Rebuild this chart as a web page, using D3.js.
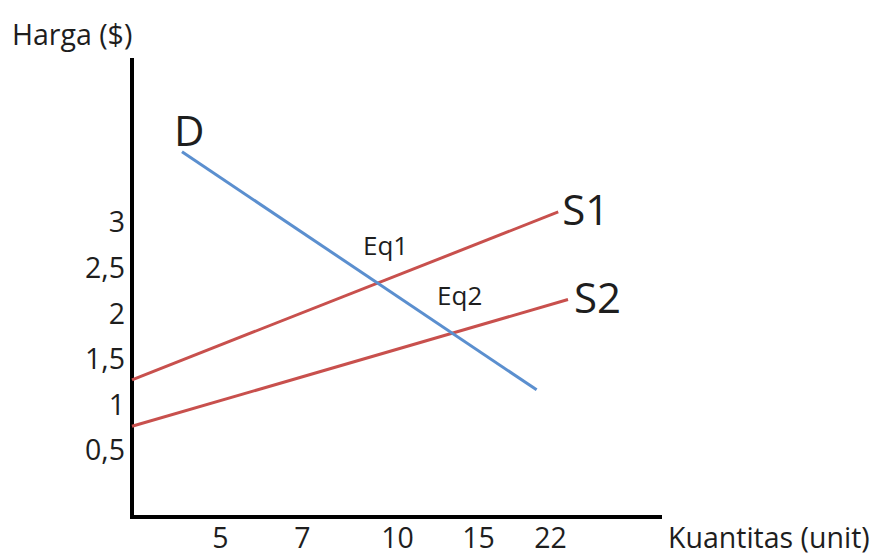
<!DOCTYPE html>
<html><head><meta charset="utf-8">
<script src="https://cdn.jsdelivr.net/npm/d3@7"></script>
<style>
html,body{margin:0;padding:0;background:#fff;}
svg{display:block;}
text{font-family:"Open Sans",Lato,sans-serif;fill:#1e1e1e;font-weight:500;}
</style></head>
<body><svg id="chart" width="891" height="556"></svg>
<script>
// ---- data ----
const xTickValues = [5, 7, 10, 15, 22];
const xTickLabels = ["5", "7", "10", "15", "22"];
const yTickValues = [0.5, 1, 1.5, 2, 2.5, 3];
const yTickLabels = ["0,5", "1", "1,5", "2", "2,5", "3"];
const demandD  = [{q: 2.84, p: 3.77}, {q: 20.7, p: 1.16}];
const supplyS1 = [{q: 0, p: 1.27}, {q: 22.8, p: 3.11}];
const supplyS2 = [{q: 0, p: 0.76}, {q: 23.75, p: 2.15}];
const equilibria = [{name: "Eq1", q: 9.4, p: 2.33}, {name: "Eq2", q: 13.4, p: 1.78}];
const curveNames = ["D", "S1", "S2"];
const axisTitles = {x: "Kuantitas (unit)", y: "Harga ($)"};

// ---- layout ----
const svg = d3.select("#chart");
const originX = 132, baseY = 517, topY = 58, rightX = 662;
const smallFont = "28.5px";

// hand-drawn diagram: tick marks are not evenly proportional -> piecewise linear scale
const x = d3.scaleLinear()
  .domain([0].concat(xTickValues))
  .range([originX, 220, 302, 397, 478, 550]);
const y = d3.scaleLinear().domain([0.5, 3]).range([450, 222]);

const blue = "#5B8FCF", red = "#C8504D";

// axes lines
svg.append("line").attr("x1", originX).attr("x2", originX).attr("y1", topY).attr("y2", baseY + 2)
  .attr("stroke", "#000").attr("stroke-width", 4);
svg.append("line").attr("x1", originX - 2).attr("x2", rightX).attr("y1", baseY).attr("y2", baseY)
  .attr("stroke", "#000").attr("stroke-width", 4);

// y tick labels
const yAxis = d3.axisLeft(y).tickValues(yTickValues).tickSize(0).tickPadding(0)
  .tickFormat((d, i) => yTickLabels[i]);
const gy = svg.append("g").attr("transform", `translate(${originX - 7},0)`).call(yAxis);
gy.select(".domain").remove();
gy.selectAll("text").style("font-size", smallFont).style("font-family", "Open Sans").style("font-weight", 500)
  .attr("fill", "#1e1e1e").attr("dy", "0.35em");

// x tick labels
const xAxis = d3.axisBottom(x).tickValues(xTickValues).tickSize(0).tickPadding(0)
  .tickFormat((d, i) => xTickLabels[i]);
const gx = svg.append("g").attr("transform", `translate(0,${baseY + 21})`).call(xAxis);
gx.select(".domain").remove();
gx.selectAll("text").style("font-size", smallFont).style("font-family", "Open Sans").style("font-weight", 500)
  .attr("fill", "#1e1e1e").attr("dy", "0.35em");

// axis titles
svg.append("text").attr("x", 12).attr("y", 35).attr("dy", "0.35em")
  .style("font-size", smallFont).text(axisTitles.y);
svg.append("text").attr("x", 668).attr("y", 538).attr("dy", "0.35em")
  .style("font-size", smallFont).text(axisTitles.x);

// curves
const line = d3.line().x(d => x(d.q)).y(d => y(d.p));
svg.append("path").datum(supplyS1).attr("d", line).attr("fill", "none").attr("stroke", red).attr("stroke-width", 3);
svg.append("path").datum(supplyS2).attr("d", line).attr("fill", "none").attr("stroke", red).attr("stroke-width", 3);
svg.append("path").datum(demandD).attr("d", line).attr("fill", "none").attr("stroke", blue).attr("stroke-width", 3);

// curve labels
const big = "42px";
svg.append("text").attr("x", x(demandD[0].q) - 8).attr("y", y(demandD[0].p) - 6)
  .style("font-size", big).text(curveNames[0]);
svg.append("text").attr("x", x(supplyS1[1].q) + 4).attr("y", y(supplyS1[1].p) + 13)
  .style("font-size", big).text(curveNames[1]);
svg.append("text").attr("x", x(supplyS2[1].q) + 6).attr("y", y(supplyS2[1].p) + 13)
  .style("font-size", big).text(curveNames[2]);

// equilibrium labels
svg.selectAll("text.eq").data(equilibria).join("text").attr("class", "eq")
  .attr("x", d => x(d.q) - 15).attr("y", d => y(d.p) - 28)
  .style("font-size", "26px").text(d => d.name);
</script></body></html>
